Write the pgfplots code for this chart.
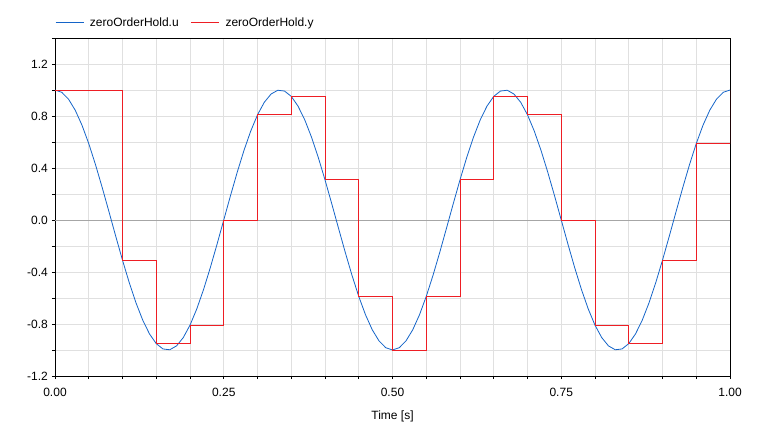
\documentclass[border=0pt]{standalone}
\usepackage{fontspec}
\setmainfont{Liberation Sans}
\usepackage{pgfplots}
\pgfplotsset{compat=1.18}
\definecolor{ublue}{RGB}{20,100,200}
\definecolor{yred}{RGB}{238,30,36}
\begin{document}
\fontsize{12}{14}\selectfont
\begin{tikzpicture}
\path[use as bounding box] (-55pt,-56pt) rectangle (703pt,376pt);
\begin{axis}[
    scale only axis,
    width=675pt, height=338pt,
    xmin=0, xmax=1, ymin=-1.2, ymax=1.4,
    xtick={0,0.25,0.5,0.75,1},
    minor xtick={0.05,0.1,0.15,0.2,0.3,0.35,0.4,0.45,0.55,0.6,0.65,0.7,0.8,0.85,0.9,0.95},
    ytick={-1.2,-0.8,-0.4,0,0.4,0.8,1.2},
    minor ytick={-1.0,-0.6,-0.2,0.2,0.6,1.0,1.4},
    xticklabel style={yshift=-5pt, /pgf/number format/.cd,fixed,fixed zerofill,precision=2,assume math mode=true},
    yticklabel style={/pgf/number format/.cd,fixed,fixed zerofill,precision=1,assume math mode=true},
    xtick pos=bottom, ytick pos=left,
    tick align=outside,
    major tick length=3pt, minor tick length=3pt,
    tick style={black, line width=0.6pt},
    grid=both,
    major grid style={color=black!12, line width=0.7pt},
    minor grid style={color=black!12, line width=0.7pt},
    axis line style={black, line width=0.8pt},
    extra y ticks={0},
    extra y tick labels={},
    extra y tick style={major tick length=0pt, grid=major, major grid style={color=black!35, line width=0.7pt}},
    xlabel={Time [s]},
    xlabel style={yshift=-6pt},
    legend columns=-1,
    legend style={at={(rel axis cs:0,1)}, anchor=south west, draw=none, fill=none,
        yshift=6pt, inner xsep=0pt, font=\fontsize{12}{14}\selectfont,
        /tikz/every odd column/.append style={column sep=4pt},
        /tikz/every even column/.append style={column sep=10pt}},
    legend image code/.code={\draw[#1] (0pt,0pt) -- (28pt,0pt);},
    legend cell align=left,
]
\addplot[ublue, line width=0.8pt] coordinates {
(0.00,1.00000) (0.01,0.98229) (0.02,0.92978) (0.03,0.84433) (0.04,0.72897)
(0.05,0.58779) (0.06,0.42578) (0.07,0.24869) (0.08,0.06279) (0.09,-0.12533)
(0.10,-0.30902) (0.11,-0.48175) (0.12,-0.63742) (0.13,-0.77051) (0.14,-0.87631)
(0.15,-0.95106) (0.16,-0.99211) (0.17,-0.99803) (0.18,-0.96858) (0.19,-0.90483)
(0.20,-0.80902) (0.21,-0.68455) (0.22,-0.53583) (0.23,-0.36812) (0.24,-0.18738)
(0.25,0.00000) (0.26,0.18738) (0.27,0.36812) (0.28,0.53583) (0.29,0.68455)
(0.30,0.80902) (0.31,0.90483) (0.32,0.96858) (0.33,0.99803) (0.34,0.99211)
(0.35,0.95106) (0.36,0.87631) (0.37,0.77051) (0.38,0.63742) (0.39,0.48175)
(0.40,0.30902) (0.41,0.12533) (0.42,-0.06279) (0.43,-0.24869) (0.44,-0.42578)
(0.45,-0.58779) (0.46,-0.72897) (0.47,-0.84433) (0.48,-0.92978) (0.49,-0.98229)
(0.50,-1.00000) (0.51,-0.98229) (0.52,-0.92978) (0.53,-0.84433) (0.54,-0.72897)
(0.55,-0.58779) (0.56,-0.42578) (0.57,-0.24869) (0.58,-0.06279) (0.59,0.12533)
(0.60,0.30902) (0.61,0.48175) (0.62,0.63742) (0.63,0.77051) (0.64,0.87631)
(0.65,0.95106) (0.66,0.99211) (0.67,0.99803) (0.68,0.96858) (0.69,0.90483)
(0.70,0.80902) (0.71,0.68455) (0.72,0.53583) (0.73,0.36812) (0.74,0.18738)
(0.75,0.00000) (0.76,-0.18738) (0.77,-0.36812) (0.78,-0.53583) (0.79,-0.68455)
(0.80,-0.80902) (0.81,-0.90483) (0.82,-0.96858) (0.83,-0.99803) (0.84,-0.99211)
(0.85,-0.95106) (0.86,-0.87631) (0.87,-0.77051) (0.88,-0.63742) (0.89,-0.48175)
(0.90,-0.30902) (0.91,-0.12533) (0.92,0.06279) (0.93,0.24869) (0.94,0.42578)
(0.95,0.58779) (0.96,0.72897) (0.97,0.84433) (0.98,0.92978) (0.99,0.98229)
(1.00,1.00000)
};
\addlegendentry{zeroOrderHold.u}
\addplot[yred, line width=0.8pt, const plot] coordinates {
(0,1) (0.1,-0.309) (0.15,-0.951) (0.2,-0.809) (0.25,0) (0.3,0.809)
(0.35,0.951) (0.4,0.309) (0.45,-0.588) (0.5,-1) (0.55,-0.588) (0.6,0.309)
(0.65,0.951) (0.7,0.809) (0.75,0) (0.8,-0.809) (0.85,-0.951) (0.9,-0.309)
(0.95,0.588) (1,1)
};
\addlegendentry{zeroOrderHold.y}
\end{axis}
\end{tikzpicture}
\end{document}
